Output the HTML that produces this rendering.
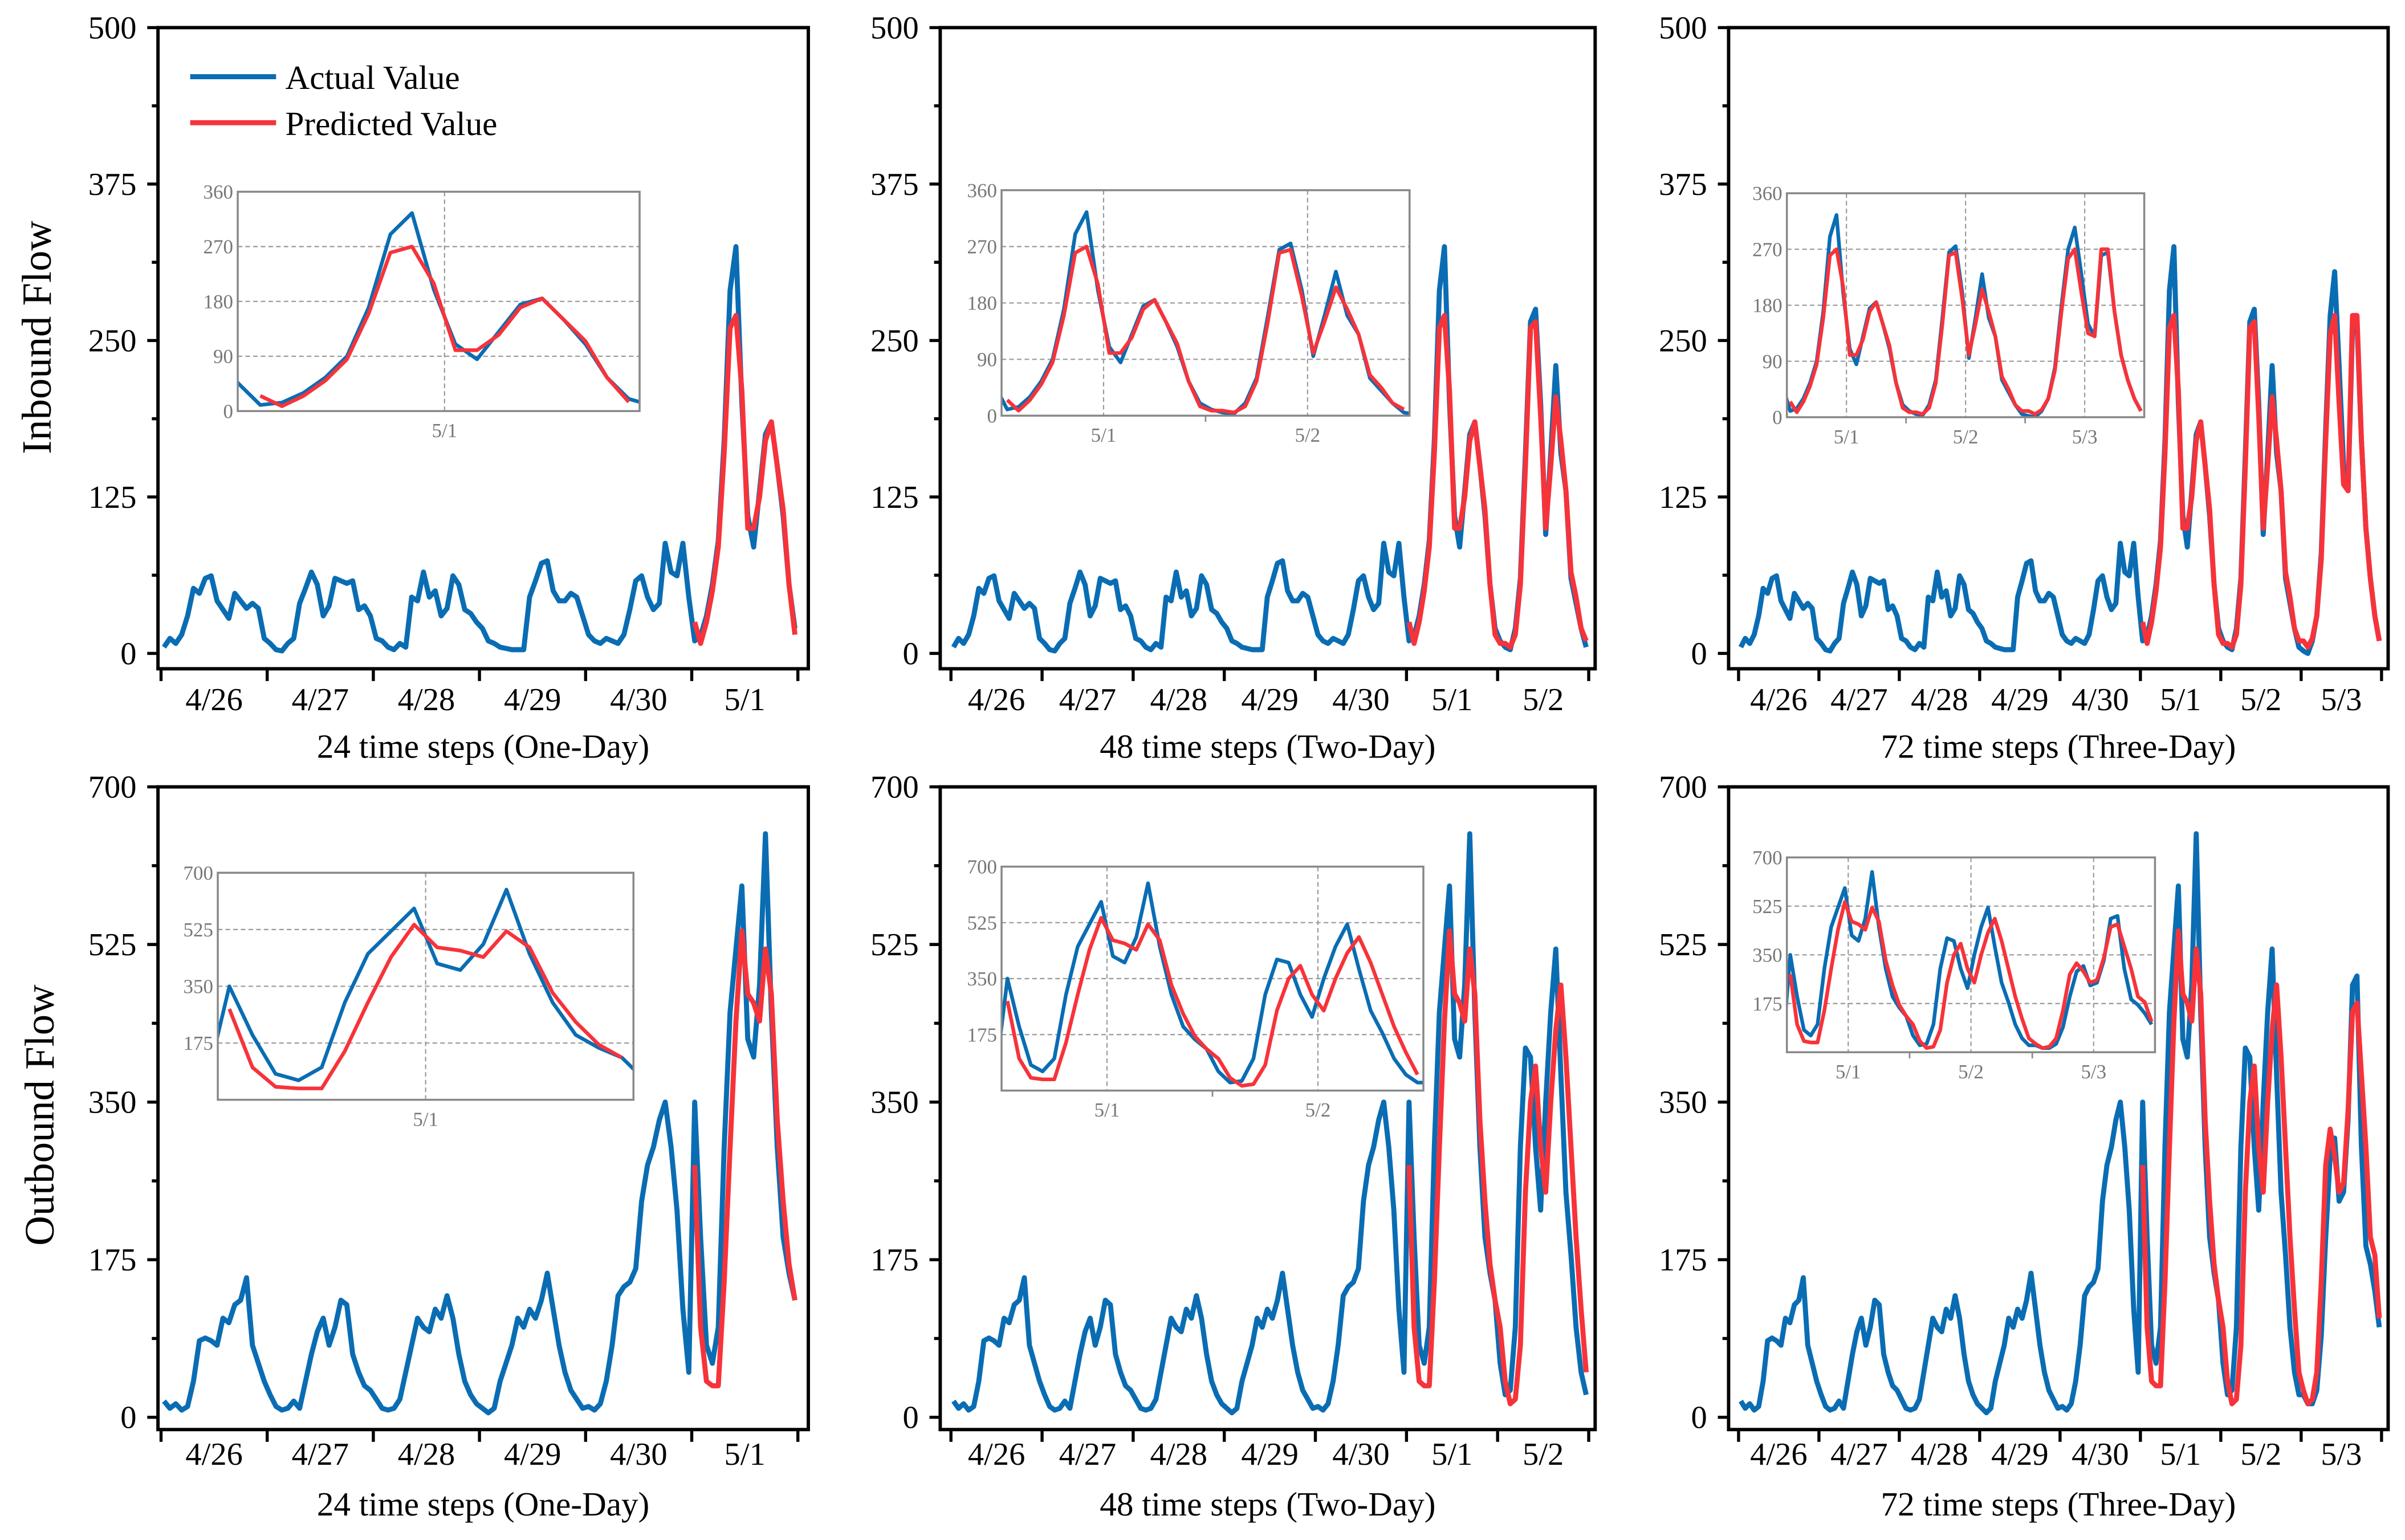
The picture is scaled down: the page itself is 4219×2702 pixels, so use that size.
<!DOCTYPE html>
<html><head><meta charset="utf-8">
<style>
html,body{margin:0;padding:0;background:#fff;}
svg{display:block;font-family:"Liberation Serif",serif;}
</style></head>
<body>
<svg id="chart" xmlns="http://www.w3.org/2000/svg" width="4219" height="2702" viewBox="0 0 1568 1004" preserveAspectRatio="none">
<rect x="0" y="0" width="1568" height="1004" fill="#fff"/>
<text transform="translate(33,220) rotate(-90)" text-anchor="middle" font-size="27">Inbound Flow</text>
<text transform="translate(35,727) rotate(-90)" text-anchor="middle" font-size="27">Outbound Flow</text>
</svg>
<script>
const dayLabels = ["4/26","4/27","4/28","4/29","4/30","5/1","5/2","5/3"];
const inActual = [
 5,12,8,15,30,52,48,60,62,42,35,28,48,42,36,40,36,12,
 8,3,2,8,12,40,52,65,55,30,38,60,58,56,58,35,38,30,
 12,10,5,3,8,5,45,42,65,45,50,30,36,62,55,35,32,25,
 20,10,8,5,4,3,3,3,45,58,72,74,50,42,42,48,45,30,
 15,10,8,12,10,8,15,35,58,62,45,35,40,88,65,62,88,45,
 10,14,30,55,90,170,290,325,200,110,85,130,175,185,150,110,55,20,
 10,5,3,20,60,160,265,275,200,95,160,230,160,130,60,40,20,5,
 2,0,10,30,80,180,270,305,230,150,130,260,265,170,100,60,30,10];
const inPred = [
 25,8,25,50,85,160,260,270,210,100,100,125,170,185,150,115,55,15,
 8,8,5,15,55,150,260,265,190,100,150,205,170,130,65,45,20,10,
 10,5,12,30,75,170,255,270,200,135,130,270,270,170,100,60,30,10];
const outActual = [
 18,10,15,8,12,40,85,88,85,80,110,105,125,130,155,80,60,40,
 25,12,8,10,18,10,40,70,95,110,80,100,130,125,70,50,35,30,
 20,10,8,10,20,50,80,110,100,95,120,110,135,110,70,40,25,15,
 10,5,10,40,60,80,110,100,120,110,130,160,120,80,50,30,20,10,
 12,8,15,40,80,135,145,150,165,240,280,300,330,350,300,230,120,50,
 350,200,80,60,100,300,450,520,590,420,400,480,648,450,300,200,160,130,
 60,25,30,100,300,410,400,300,230,350,450,520,380,250,180,100,50,25,
 25,15,15,30,90,200,290,310,240,250,330,480,490,300,190,170,140,100];
const outPred = [
 280,100,40,35,35,150,300,440,540,470,460,440,520,470,330,240,170,130,
 100,40,15,20,80,250,350,390,300,250,350,430,480,400,300,200,120,50,
 30,15,20,50,150,280,320,290,250,260,340,450,460,380,300,200,180,110];
const inTicks = [0,125,250,375,500];
const outTicks = [0,175,350,525,700];
const inInsetTicks = [0,90,180,270,360];
const outInsetTicks = [175,350,525,700];
const titles = ["24 time steps (One-Day)","48 time steps (Two-Day)","72 time steps (Three-Day)"];

const PER = 18, PRED0 = 5;
const NS = "http://www.w3.org/2000/svg";
const svg = document.getElementById('chart');
function el(tag, attrs, parent){const e=document.createElementNS(NS,tag);for(const k in attrs)e.setAttribute(k,attrs[k]);(parent||svg).appendChild(e);return e;}
const BLUE="#0a6db3", RED="#f7333a";

const rows=[
 {key:'in',top:18,bottom:436,y0:426,y1:18,max:500,ticks:inTicks,act:inActual,pred:inPred,labY:456,titleY:494,
  insets:[{l:155,r:417,t:125,b:268,d0:4.97,d1:6.0,max:360,min:0,ticks:inInsetTicks},
          {l:653,r:919,t:124,b:271,d0:5.0,d1:7.0,max:360,min:0,ticks:inInsetTicks},
          {l:1165,r:1398,t:126,b:272,d0:5.0,d1:8.0,max:360,min:0,ticks:inInsetTicks}]},
 {key:'out',top:513,bottom:932,y0:924,y1:513,max:700,ticks:outTicks,act:outActual,pred:outPred,labY:948,titleY:988,
  insets:[{l:142,r:413,t:569,b:717,d0:5.0,d1:6.0,max:700,min:0,ticks:outInsetTicks},
          {l:653,r:928,t:565,b:711,d0:5.0,d1:7.0,max:700,min:0,ticks:outInsetTicks},
          {l:1165,r:1405,t:559,b:686,d0:5.0,d1:8.0,max:700,min:0,ticks:outInsetTicks}]}
];
const cols=[{l:103,r:527,t0:105,sp:69.2,days:6},{l:613,r:1040,t0:620,sp:59.4,days:7},{l:1127,r:1557,t0:1133.5,sp:52.4,days:8}];
const uOf = i => Math.floor(i/PER) + ((i%PER)+0.5)/PER;

rows.forEach((row,ri)=>{
 cols.forEach((c,ci)=>{
  const g=el('g',{});
  
  
  const xs=u=>c.t0+u*c.sp;
  const ys=v=>row.y0-(v/row.max)*(row.y0-row.y1);
  let pts=[];
  for(let i=0;i<c.days*PER;i++) pts.push(xs(uOf(i)).toFixed(2)+','+ys(row.act[i]).toFixed(2));
  const a=el('polyline',{points:pts.join(' '),fill:'none',stroke:BLUE,'stroke-width':3.3,'stroke-linejoin':'round'},g);
  
  
  pts=[];
  const np=(c.days-PRED0)*PER;
  for(let i=0;i<np;i++) pts.push(xs(PRED0+uOf(i)).toFixed(2)+','+ys(row.pred[i]).toFixed(2));
  const p=el('polyline',{points:pts.join(' '),fill:'none',stroke:RED,'stroke-width':3.3,'stroke-linejoin':'round'},g);
  
  
  const f=el('rect',{x:c.l,y:row.top,width:c.r-c.l,height:row.bottom-row.top,fill:'none',stroke:'#000','stroke-width':2.2},g);
  
  
  row.ticks.forEach((t,k)=>{
   const y=ys(t);
   el('line',{x1:c.l-7,x2:c.l,y1:y,y2:y,stroke:'#000','stroke-width':2},g);
   if(k<row.ticks.length-1){const ym=ys(t+(row.ticks[1]-row.ticks[0])/2);el('line',{x1:c.l-4,x2:c.l,y1:ym,y2:ym,stroke:'#000','stroke-width':2},g);}
   const tl=el('text',{x:c.l-14,y:y+7,'text-anchor':'end','font-size':21},g);
   tl.textContent=t;
   
   
  });
  for(let d=0;d<=c.days;d++){const x=xs(d);el('line',{x1:x,x2:x,y1:row.bottom,y2:row.bottom+8,stroke:'#000','stroke-width':2},g);}
  for(let d=0;d<c.days;d++){
   const tl=el('text',{x:xs(d+0.5),y:row.labY+7,'text-anchor':'middle','font-size':21},g);
   tl.textContent=dayLabels[d];
   
   
  }
  const tt=el('text',{x:(c.l+c.r)/2,y:row.titleY,'text-anchor':'middle','font-size':22},g);
  tt.textContent=titles[ci];
  
  

  const ins=row.insets[ci];
  const ig=el('g',{},g);
  
  
  el('rect',{x:ins.l,y:ins.t,width:ins.r-ins.l,height:ins.b-ins.t,fill:'#fff',stroke:'none'},ig);
  const ix=u=>ins.l+(u-ins.d0)/(ins.d1-ins.d0)*(ins.r-ins.l);
  const iy=v=>ins.b-(v-ins.min)/(ins.max-ins.min)*(ins.b-ins.t);
  const cid=`clip-${row.key}-${ci}`;
  const cp=el('clipPath',{id:cid},svg);
  el('rect',{x:ins.l,y:ins.t,width:ins.r-ins.l,height:ins.b-ins.t},cp);
  ins.ticks.forEach(t=>{
   const y=iy(t);
   el('line',{x1:ins.l,x2:ins.r,y1:y,y2:y,stroke:'#999','stroke-width':0.8,'stroke-dasharray':'3,2'},ig);
   const tl=el('text',{x:ins.l-3,y:y+4.5,'text-anchor':'end','font-size':13,fill:'#777'},ig);
   tl.textContent=t;
   
   
  });
  for(let d=Math.ceil(ins.d0);d<Math.round(ins.d1);d++){
   const x=ix(d+0.5);
   el('line',{x1:x,x2:x,y1:ins.t,y2:ins.b,stroke:'#999','stroke-width':0.8,'stroke-dasharray':'3,2'},ig);
   const tl=el('text',{x:x,y:ins.b+17,'text-anchor':'middle','font-size':13,fill:'#777'},ig);
   tl.textContent=dayLabels[d];
   
   
   if(d+1<Math.round(ins.d1)){const xm=ix(d+1);el('line',{x1:xm,x2:xm,y1:ins.b,y2:ins.b+4,stroke:'#888','stroke-width':1},ig);}
  }
  const cg=el('g',{'clip-path':`url(#${cid})`},ig);
  pts=[];
  for(let i=0;i<row.act.length;i++){const u=uOf(i);if(u>=ins.d0-0.1&&u<=ins.d1+0.1)pts.push(ix(u).toFixed(2)+','+iy(row.act[i]).toFixed(2));}
  const ia=el('polyline',{points:pts.join(' '),fill:'none',stroke:BLUE,'stroke-width':2.4,'stroke-linejoin':'round'},cg);
  
  
  pts=[];
  for(let i=0;i<np;i++){const u=PRED0+uOf(i);if(u<=ins.d1+0.1)pts.push(ix(u).toFixed(2)+','+iy(row.pred[i]).toFixed(2));}
  const ip=el('polyline',{points:pts.join(' '),fill:'none',stroke:RED,'stroke-width':2.4,'stroke-linejoin':'round'},cg);
  
  
  el('rect',{x:ins.l,y:ins.t,width:ins.r-ins.l,height:ins.b-ins.t,fill:'none',stroke:'#888','stroke-width':1.3},ig);
 });
});
const lg=el('g',{});


el('line',{x1:124,x2:180,y1:50,y2:50,stroke:BLUE,'stroke-width':3.3},lg);
el('line',{x1:124,x2:180,y1:80,y2:80,stroke:RED,'stroke-width':3.3},lg);
const l1=el('text',{x:186,y:58,'font-size':22},lg);l1.textContent='Actual Value';


const l2=el('text',{x:186,y:88,'font-size':22},lg);l2.textContent='Predicted Value';


</script>
</body></html>
